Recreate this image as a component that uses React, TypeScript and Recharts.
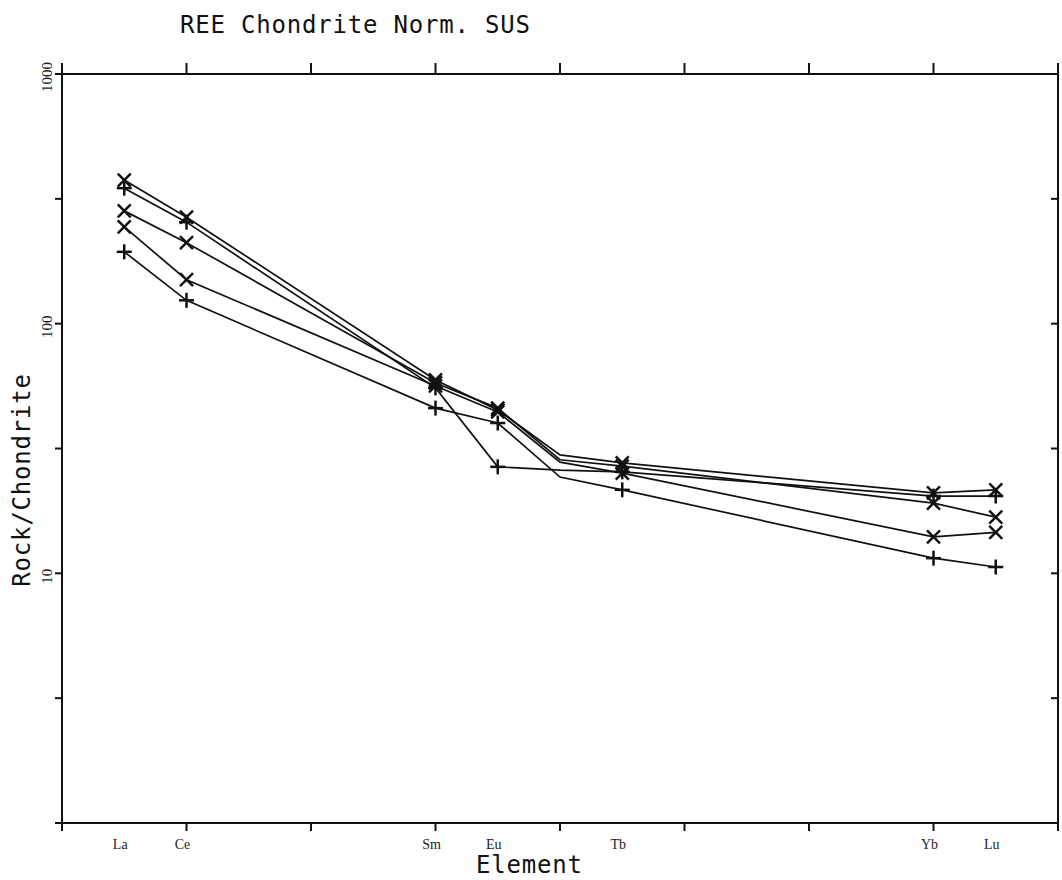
// REE chondrite-normalised spider plot, plotter-style: log y, atomic-number x.
import { Line, LineChart, XAxis, YAxis } from "recharts";

const ELEMENTS = ["La", "Ce", "Sm", "Eu", "Gd", "Tb", "Yb", "Lu"];
const ATOMIC_NO = [57, 58, 62, 63, 64, 65, 70, 71];
const MARKED = [true, true, true, true, false, true, true, true]; // Gd: no symbol, no label

const SAMPLE_A = [376, 267, 59.5, 45.1, 29.8, 27.7, 21.0, 21.6];
const SAMPLE_B = [349, 255, 55.3, 26.7, 25.9, 25.5, 20.4, 20.4];
const SAMPLE_C = [283, 211, 57.9, 45.9, 28.5, 26.9, 19.1, 16.8];
const SAMPLE_D = [244, 150, 56.3, 44.3, 27.9, 25.2, 14.0, 14.6];
const SAMPLE_E = [194, 124, 45.9, 40.0, 24.3, 21.6, 11.5, 10.6];

const SERIES = [
  { key: "a", values: SAMPLE_A, mark: "x" },
  { key: "b", values: SAMPLE_B, mark: "+" },
  { key: "c", values: SAMPLE_C, mark: "x" },
  { key: "d", values: SAMPLE_D, mark: "x" },
  { key: "e", values: SAMPLE_E, mark: "+" },
];

const X_TICKS = [56, 58, 60, 62, 64, 66, 68, 70, 72];
const Y_TICKS = [1, 3.162, 10, 31.62, 100, 316.2, 1000];
const Y_LABELS = [10, 100, 1000];

const INK = "#111";
const PLOT_FONT = "'DejaVu Sans Mono', monospace";
const SERIF = "'Liberation Serif', 'DejaVu Serif', serif";

const data = ATOMIC_NO.map((z, i) => {
  const row: Record<string, number | string | boolean> = {
    z,
    el: ELEMENTS[i],
    marked: MARKED[i],
  };
  SERIES.forEach((s) => (row[s.key] = s.values[i]));
  return row;
});

const bottomTicks = Array.from(new Set([...X_TICKS, ...ATOMIC_NO])).sort(
  (a, b) => a - b
);

function makeDot(mark: string) {
  return (props: any) => {
    const { cx, cy, payload, index } = props;
    if (!payload?.marked || cx == null || cy == null)
      return <g key={`n${index}`} />;
    const r = 6.5;
    if (mark === "x") {
      return (
        <g key={`d${index}`} stroke={INK} strokeWidth={2.5}>
          <line x1={cx - r} y1={cy - r} x2={cx + r} y2={cy + r} />
          <line x1={cx - r} y1={cy + r} x2={cx + r} y2={cy - r} />
        </g>
      );
    }
    return (
      <g key={`d${index}`} stroke={INK} strokeWidth={2.5}>
        <line x1={cx} y1={cy - r - 1} x2={cx} y2={cy + r + 1} />
        <line x1={cx - r - 1} y1={cy} x2={cx + r + 1} y2={cy} />
      </g>
    );
  };
}

function BottomTick(props: any) {
  const { x, y, payload } = props;
  const v = payload.value;
  const i = ATOMIC_NO.indexOf(v);
  return (
    <g>
      {X_TICKS.includes(v) && (
        <line x1={x} y1={y} x2={x} y2={y + 8} stroke={INK} strokeWidth={2} />
      )}
      {i >= 0 && MARKED[i] && (
        <text
          x={x - 4}
          y={y + 26}
          textAnchor="middle"
          fontFamily={SERIF}
          fontSize={14}
          fill="#222"
        >
          {ELEMENTS[i]}
        </text>
      )}
    </g>
  );
}

function TopTick(props: any) {
  const { x, y } = props;
  return <line x1={x} y1={y} x2={x} y2={y - 11} stroke={INK} strokeWidth={2} />;
}

function LeftTick(props: any) {
  const { x, y, payload } = props;
  const v = payload.value;
  const label = Y_LABELS.find((l) => Math.abs(l - v) < 1e-6);
  return (
    <g>
      <line x1={x} y1={y} x2={x - 7} y2={y} stroke={INK} strokeWidth={2} />
      {label != null && (
        <text
          transform={`translate(${x - 10},${y + 3}) rotate(-90)`}
          textAnchor="middle"
          fontFamily={SERIF}
          fontSize={15}
          fill="#222"
        >
          {label}
        </text>
      )}
    </g>
  );
}

function RightTick(props: any) {
  const { x, y, payload } = props;
  if (payload.value <= 1 || payload.value >= 1000) return <g />;
  return <line x1={x} y1={y} x2={x - 7} y2={y} stroke={INK} strokeWidth={2} />;
}

const textStyle = {
  position: "absolute" as const,
  fontFamily: PLOT_FONT,
  fontSize: 24,
  letterSpacing: 0.8,
  color: INK,
  whiteSpace: "nowrap" as const,
  lineHeight: 1,
};

export default function App() {
  return (
    <div
      style={{
        position: "absolute",
        left: 0,
        top: 0,
        width: 1062,
        height: 880,
        background: "#fff",
        overflow: "hidden",
      }}
    >
      <LineChart
        width={1062}
        height={880}
        data={data}
        margin={{ top: 64, right: 0, bottom: 27, left: 32 }}
      >
        <XAxis
          xAxisId="bottom"
          dataKey="z"
          type="number"
          domain={[56, 72]}
          ticks={bottomTicks}
          interval={0}
          tick={<BottomTick />}
          tickSize={0}
          tickMargin={0}
          tickLine={false}
          axisLine={{ stroke: INK, strokeWidth: 2 }}
          height={30}
        />
        <XAxis
          xAxisId="top"
          orientation="top"
          dataKey="z"
          type="number"
          domain={[56, 72]}
          ticks={X_TICKS}
          interval={0}
          tick={<TopTick />}
          tickSize={0}
          tickMargin={0}
          tickLine={false}
          axisLine={{ stroke: INK, strokeWidth: 2 }}
          height={10}
        />
        <YAxis
          yAxisId="left"
          scale="log"
          domain={[1, 1000]}
          allowDataOverflow
          ticks={Y_TICKS}
          interval={0}
          tick={<LeftTick />}
          tickSize={0}
          tickMargin={0}
          tickLine={false}
          axisLine={{ stroke: INK, strokeWidth: 2 }}
          width={30}
        />
        <YAxis
          yAxisId="right"
          orientation="right"
          scale="log"
          domain={[1, 1000]}
          allowDataOverflow
          ticks={Y_TICKS}
          interval={0}
          tick={<RightTick />}
          tickSize={0}
          tickMargin={0}
          tickLine={false}
          axisLine={{ stroke: INK, strokeWidth: 2 }}
          width={4}
        />
        {SERIES.map((s) => (
          <Line
            key={s.key}
            xAxisId="bottom"
            yAxisId="left"
            type="linear"
            dataKey={s.key}
            stroke={INK}
            strokeWidth={1.7}
            dot={makeDot(s.mark)}
            activeDot={false}
            isAnimationActive={false}
          />
        ))}
      </LineChart>

      <div style={{ ...textStyle, left: 180, top: 13 }}>REE Chondrite Norm. SUS</div>
      <div
        style={{
          ...textStyle,
          left: 22,
          top: 480,
          transform: "translate(-50%, -50%) rotate(-90deg)",
        }}
      >
        Rock/Chondrite
      </div>
      <div style={{ ...textStyle, left: 476, top: 853 }}>Element</div>
    </div>
  );
}
